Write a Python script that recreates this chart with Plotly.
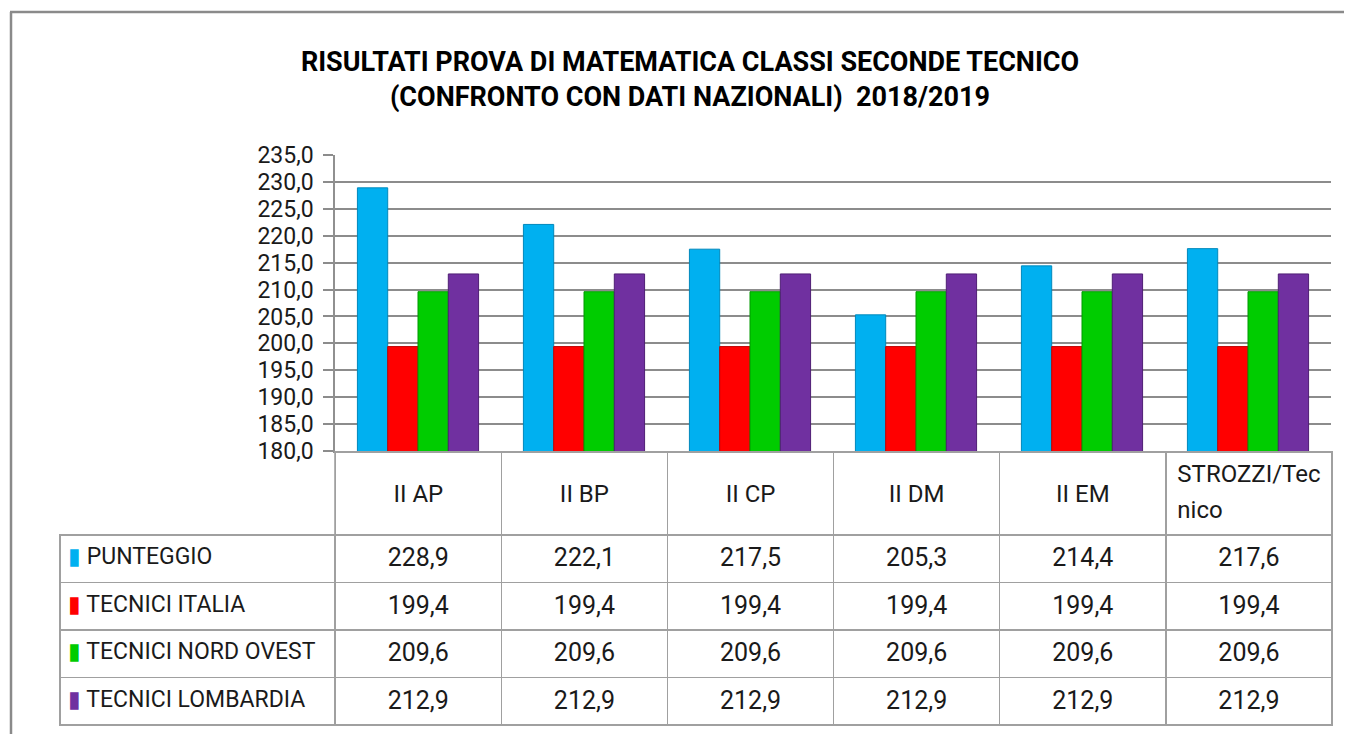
import plotly.graph_objects as go

categories = ["II AP", "II BP", "II CP", "II DM", "II EM", "STROZZI/Tecnico"]
header_labels = ["II AP", "II BP", "II CP", "II DM", "II EM", "STROZZI/Tec<br>nico"]
series_names = ["PUNTEGGIO", "TECNICI ITALIA", "TECNICI NORD OVEST", "TECNICI LOMBARDIA"]
punteggio = [228.9, 222.1, 217.5, 205.3, 214.4, 217.6]
tecnici_italia = [199.4, 199.4, 199.4, 199.4, 199.4, 199.4]
tecnici_nord_ovest = [209.6, 209.6, 209.6, 209.6, 209.6, 209.6]
tecnici_lombardia = [212.9, 212.9, 212.9, 212.9, 212.9, 212.9]
series_values = [punteggio, tecnici_italia, tecnici_nord_ovest, tecnici_lombardia]
colors = ["#00B0F0", "#FF0000", "#00CC00", "#7030A0"]
edge_colors = ["#0088BB", "#C00000", "#009900", "#4F1F75"]
title_lines = ["RISULTATI PROVA DI MATEMATICA CLASSI SECONDE TECNICO",
               "(CONFRONTO CON DATI NAZIONALI)  2018/2019"]

FONT = "Roboto, sans-serif"
OFF = 8                      # page body margin
WF, HF = 1352 - OFF, 734 - OFF

def sx(p):
    return (p - OFF) / WF

def sy(p):
    return 1 - (p - OFF) / HF

fig = go.Figure()
for name, vals, c, ec in zip(series_names, series_values, colors, edge_colors):
    fig.add_trace(go.Bar(x=categories, y=vals, name=name,
                         marker=dict(color=c, line=dict(color=ec, width=1)),
                         showlegend=False))

def fmt(v):
    return f"{v:.1f}".replace(".", ",")

first_col = [f'<a href=""style="color:{c}">▮</a> {n}' for n, c in zip(series_names, colors)]
cols = [first_col]
for i in range(len(categories)):
    cols.append([f"<span>{fmt(s[i])}</span>" for s in series_values])

header_vals = [""]
header_sizes = [27]
for lab in header_labels:
    if "<br>" in lab:
        parts = lab.split("<br>")
        header_vals.append("<br>".join(f'<span style="font-size:24px">{p}</span>' for p in parts))
        header_sizes.append(28)
    else:
        header_vals.append('<span style="font-size:8px">\u00a0</span><br>'
                           f'<span style="font-size:24px">{lab}</span>')
        header_sizes.append(27)

fig.add_trace(go.Table(
    domain=dict(x=[sx(60), sx(1332)], y=[sy(727), sy(452)]),
    columnwidth=[275] + [166] * len(categories),
    header=dict(values=header_vals,
                height=83,
                align="center",
                line=dict(color=["rgba(0,0,0,0)"] + ["#A0A0A0"] * len(categories), width=1.5),
                fill=dict(color=["rgba(0,0,0,0)"] + ["white"] * len(categories)),
                font=dict(family=FONT, size=header_sizes, color="#1a1a1a")),
    cells=dict(values=cols,
               height=47.5,
               align=["left"] + ["center"] * len(categories),
               line=dict(color="#A0A0A0", width=1.5),
               fill=dict(color="white"),
               font=dict(family=FONT, size=[23] + [25] * len(categories), color="#1a1a1a")),
))

fig.update_layout(
    width=WF, height=HF,
    margin=dict(l=0, r=0, t=0, b=0),
    paper_bgcolor="white", plot_bgcolor="white",
    separators=",.",
    barmode="group", bargap=0.27, bargroupgap=0,
    title=dict(text="<br>".join(title_lines), x=sx(690), xanchor="center",
               y=sy(71), yanchor="top",
               font=dict(family=FONT, size=27, color="black", weight="bold")),
    xaxis=dict(domain=[sx(335), sx(1331)], showticklabels=False, automargin=False,
               showline=True, linecolor="#909090", linewidth=1.5,
               showgrid=False, ticks=""),
    yaxis=dict(domain=[sy(451), sy(155)], range=[180, 235], dtick=5, automargin=False,
               tickformat=".1f", showline=True, linecolor="#909090", linewidth=1.5,
               showgrid=True, gridcolor="#8C8C8C", gridwidth=1.5,
               ticks="outside", ticklen=10, tickcolor="#8C8C8C", tickwidth=1.5,
               ticklabelstandoff=5,
               tickfont=dict(family=FONT, size=23, color="#1a1a1a"), zeroline=False),
    shapes=[
        dict(type="line", xref="paper", yref="paper", x0=sx(10), x1=1, y0=sy(12), y1=sy(12),
             line=dict(color="#8A8A8A", width=2.5)),
        dict(type="line", xref="paper", yref="paper", x0=sx(11), x1=sx(11), y0=sy(12), y1=0,
             line=dict(color="#8A8A8A", width=2.5)),
    ],
)

fig.write_html("out.html")
